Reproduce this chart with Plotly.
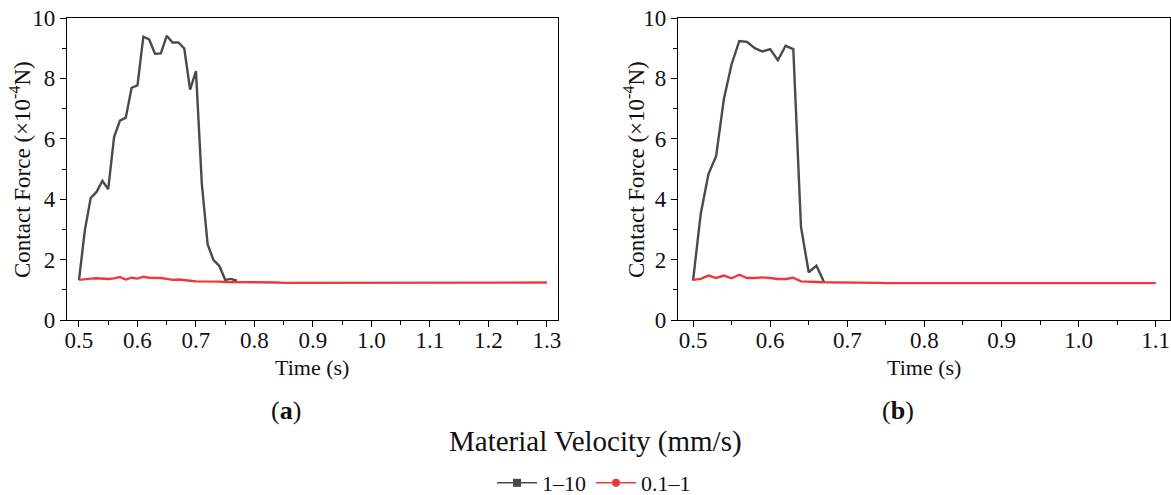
import plotly.graph_objects as go

# ---------------- data ----------------
time_a = [round(0.50 + 0.01 * i, 2) for i in range(81)]   # 0.50 .. 1.30
time_b = [round(0.50 + 0.01 * i, 2) for i in range(61)]   # 0.50 .. 1.10

black_a = [1.32, 2.97, 4.04, 4.24, 4.61, 4.33, 6.06, 6.60, 6.70, 7.69,
           7.77, 9.38, 9.29, 8.82, 8.83, 9.41, 9.19, 9.19, 8.99, 7.63,
           8.24, 4.52, 2.50, 1.98, 1.79, 1.33, 1.36, 1.30]
red_a = [1.33, 1.36, 1.37, 1.38, 1.36, 1.36, 1.38, 1.42, 1.34, 1.40,
         1.37, 1.43, 1.40, 1.40, 1.39, 1.36, 1.33, 1.34, 1.33, 1.30,
         1.28, 1.28, 1.29, 1.28, 1.27, 1.26, 1.26, 1.26, 1.25, 1.24,
         1.24, 1.25, 1.26, 1.26, 1.24, 1.23, 1.23, 1.23, 1.23, 1.23,
         1.23, 1.23, 1.23, 1.24, 1.24, 1.24, 1.24, 1.24, 1.24, 1.24,
         1.24, 1.24, 1.24, 1.24, 1.24, 1.24, 1.24, 1.24, 1.24, 1.24,
         1.24, 1.24, 1.24, 1.24, 1.24, 1.24, 1.24, 1.24, 1.24, 1.24,
         1.24, 1.24, 1.24, 1.24, 1.24, 1.24, 1.24, 1.24, 1.24, 1.24,
         1.24]

black_b = [1.30, 3.52, 4.83, 5.43, 7.32, 8.47, 9.24, 9.21, 9.00, 8.89,
           8.97, 8.60, 9.08, 8.97, 3.08, 1.58, 1.80, 1.25]
red_b = [1.33, 1.36, 1.47, 1.39, 1.47, 1.38, 1.50, 1.39, 1.39, 1.41,
         1.39, 1.36, 1.36, 1.40, 1.28, 1.26, 1.26, 1.25, 1.25, 1.24,
         1.24, 1.23, 1.23, 1.23, 1.23, 1.22, 1.23, 1.22, 1.22, 1.22,
         1.22, 1.22, 1.22, 1.22, 1.22, 1.22, 1.22, 1.22, 1.22, 1.22,
         1.22, 1.22, 1.23, 1.23, 1.22, 1.22, 1.22, 1.22, 1.22, 1.22,
         1.22, 1.22, 1.22, 1.22, 1.22, 1.22, 1.22, 1.22, 1.22, 1.22,
         1.22]

series_names = ["1\u201310", "0.1\u20131"]
x_ticks_a = [0.5, 0.6, 0.7, 0.8, 0.9, 1.0, 1.1, 1.2, 1.3]
x_ticks_b = [0.5, 0.6, 0.7, 0.8, 0.9, 1.0, 1.1]
y_ticks = [0, 2, 4, 6, 8, 10]

# ---------------- style ----------------
BLACK = "#4a4a4a"
RED = "#f0383c"
FONT = "Liberation Serif"
TXT = "#111"
W, H = 1171, 495

fig = go.Figure()

fig.add_trace(go.Scatter(x=time_a[:len(black_a)], y=black_a, mode="lines",
                         line=dict(color=BLACK, width=2.4), showlegend=False,
                         xaxis="x", yaxis="y"))
fig.add_trace(go.Scatter(x=time_a, y=red_a, mode="lines",
                         line=dict(color=RED, width=2.4), showlegend=False,
                         xaxis="x", yaxis="y"))
fig.add_trace(go.Scatter(x=time_b[:len(black_b)], y=black_b, mode="lines",
                         line=dict(color=BLACK, width=2.4), showlegend=False,
                         xaxis="x2", yaxis="y2"))
fig.add_trace(go.Scatter(x=time_b, y=red_b, mode="lines",
                         line=dict(color=RED, width=2.4), showlegend=False,
                         xaxis="x2", yaxis="y2"))

# legend-only entries
fig.add_trace(go.Scatter(x=[None], y=[None], mode="lines+markers", name=series_names[0],
                         line=dict(color=BLACK, width=1.5),
                         marker=dict(symbol="square", size=8, color=BLACK)))
fig.add_trace(go.Scatter(x=[None], y=[None], mode="lines+markers", name=series_names[1],
                         line=dict(color=RED, width=1.5),
                         marker=dict(symbol="circle", size=8, color=RED)))


def px_x(p):
    return p / W


def px_y(p):
    return 1 - p / H


common_x = dict(showline=True, mirror=True, linecolor="black", linewidth=1.3,
                ticks="outside", ticklen=6, tickwidth=1.2, tickcolor="black",
                showgrid=False, zeroline=False, automargin=False, ticklabelstandoff=-7,
                tickfont=dict(family=FONT, size=23, color=TXT),
                minor=dict(ticks="outside", ticklen=4, tickwidth=1, tickcolor="black", dtick=0.05))
common_y = dict(showline=True, mirror=True, linecolor="black", linewidth=1.3,
                ticks="outside", ticklen=6, tickwidth=1.2, tickcolor="black",
                showgrid=False, zeroline=False, range=[0, 10], automargin=False,
                tickvals=y_ticks, ticktext=[str(v) for v in y_ticks],
                tickfont=dict(family=FONT, size=23, color=TXT),
                minor=dict(ticks="outside", ticklen=4, tickwidth=1, tickcolor="black", dtick=1))

ytitle = "Contact Force (\u00d710<sup>-4</sup>N)"


def label(text, x, y, size, angle=0):
    return dict(text=text, x=px_x(x), y=px_y(y), xref="paper", yref="paper",
                xanchor="center", yanchor="middle", textangle=angle,
                showarrow=False, font=dict(family=FONT, size=size, color=TXT))


fig.update_layout(
    width=W, height=H,
    margin=dict(l=0, r=0, t=0, b=0, autoexpand=False),
    paper_bgcolor="white", plot_bgcolor="white",
    font=dict(family=FONT, color=TXT),
    xaxis=dict(common_x, domain=[px_x(67), px_x(558)], range=[0.4795, 1.319],
               tickvals=x_ticks_a, ticktext=[f"{v:.1f}" for v in x_ticks_a], anchor="y"),
    yaxis=dict(common_y, domain=[px_y(320), px_y(18)], anchor="x"),
    xaxis2=dict(common_x, domain=[px_x(678), px_x(1170)], range=[0.4805, 1.1185],
                tickvals=x_ticks_b, ticktext=[f"{v:.1f}" for v in x_ticks_b], anchor="y2"),
    yaxis2=dict(common_y, domain=[px_y(320), px_y(18)], anchor="x2"),
    showlegend=True,
    legend=dict(orientation="h", x=px_x(594), y=px_y(483), xanchor="center", yanchor="middle",
                font=dict(family=FONT, size=22, color=TXT), itemwidth=40,
                bgcolor="rgba(0,0,0,0)", tracegroupgap=0),
    annotations=[
        label(ytitle, 20, 170, 23, -90),
        label(ytitle, 634, 170, 23, -90),
        label("Time (s)", 312, 367, 22),
        label("Time (s)", 924, 367, 22),
        label("(<b>a</b>)", 286, 410, 26),
        label("(<b>b</b>)", 898, 410, 26),
        label("Material Velocity (mm/s)", 595, 441, 29),
    ],
)

fig.write_html("out.html")
